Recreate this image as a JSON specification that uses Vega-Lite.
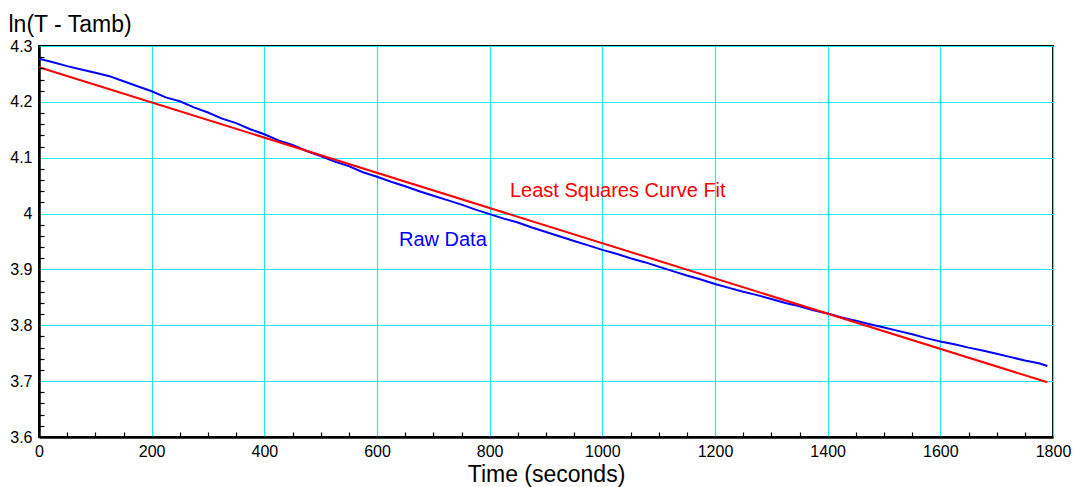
{
  "$schema": "https://vega.github.io/schema/vega-lite/v6.json",
  "width": 1014,
  "height": 391,
  "autosize": "none",
  "padding": {"left": 39, "top": 46, "right": 20, "bottom": 50},
  "background": "white",
  "config": {
    "font": "Liberation Sans",
    "view": {"stroke": "black", "strokeWidth": 2},
    "axis": {
      "domainColor": "black",
      "domainWidth": 2.5,
      "tickColor": "black",
      "tickWidth": 1.2,
      "labelColor": "black",
      "labelFontSize": 16,
      "labelFont": "Liberation Sans",
      "labelOverlap": false,
      "labelFlush": false,
      "titleFont": "Liberation Sans",
      "titleColor": "black",
      "titleFontWeight": "normal",
      "titleFontSize": 23,
      "gridColor": "#22e8ee",
      "gridWidth": 1.2
    }
  },
  "datasets": {
    "raw": [
      {"t": 0, "v": 4.277}, {"t": 25, "v": 4.271}, {"t": 50, "v": 4.264}, {"t": 75, "v": 4.258},
      {"t": 100, "v": 4.252}, {"t": 125, "v": 4.246}, {"t": 150, "v": 4.237}, {"t": 175, "v": 4.228},
      {"t": 200, "v": 4.219}, {"t": 225, "v": 4.208}, {"t": 250, "v": 4.201}, {"t": 275, "v": 4.190},
      {"t": 300, "v": 4.181}, {"t": 325, "v": 4.170}, {"t": 350, "v": 4.162}, {"t": 375, "v": 4.151},
      {"t": 400, "v": 4.142}, {"t": 425, "v": 4.131}, {"t": 450, "v": 4.123}, {"t": 475, "v": 4.112},
      {"t": 500, "v": 4.103}, {"t": 525, "v": 4.093}, {"t": 550, "v": 4.085}, {"t": 575, "v": 4.074},
      {"t": 600, "v": 4.066}, {"t": 625, "v": 4.057}, {"t": 650, "v": 4.049}, {"t": 675, "v": 4.040},
      {"t": 700, "v": 4.032}, {"t": 725, "v": 4.024}, {"t": 750, "v": 4.016}, {"t": 775, "v": 4.007},
      {"t": 800, "v": 3.999}, {"t": 825, "v": 3.991}, {"t": 850, "v": 3.984}, {"t": 875, "v": 3.975},
      {"t": 900, "v": 3.967}, {"t": 925, "v": 3.959}, {"t": 950, "v": 3.951}, {"t": 975, "v": 3.943},
      {"t": 1000, "v": 3.935}, {"t": 1025, "v": 3.928}, {"t": 1050, "v": 3.920}, {"t": 1075, "v": 3.913},
      {"t": 1100, "v": 3.905}, {"t": 1125, "v": 3.897}, {"t": 1150, "v": 3.889}, {"t": 1175, "v": 3.882},
      {"t": 1200, "v": 3.874}, {"t": 1225, "v": 3.867}, {"t": 1250, "v": 3.860}, {"t": 1275, "v": 3.854},
      {"t": 1300, "v": 3.847}, {"t": 1325, "v": 3.840}, {"t": 1350, "v": 3.834}, {"t": 1375, "v": 3.827},
      {"t": 1400, "v": 3.821}, {"t": 1425, "v": 3.814}, {"t": 1450, "v": 3.808}, {"t": 1475, "v": 3.802},
      {"t": 1500, "v": 3.796}, {"t": 1525, "v": 3.790}, {"t": 1550, "v": 3.784}, {"t": 1575, "v": 3.777},
      {"t": 1600, "v": 3.771}, {"t": 1625, "v": 3.766}, {"t": 1650, "v": 3.760}, {"t": 1675, "v": 3.755},
      {"t": 1700, "v": 3.749}, {"t": 1725, "v": 3.743}, {"t": 1750, "v": 3.737}, {"t": 1775, "v": 3.732},
      {"t": 1790, "v": 3.727}
    ],
    "fit": [{"t": 0, "v": 4.262}, {"t": 1790, "v": 3.698}],
    "labels": [
      {"t": 836, "v": 4.040, "text": "Least Squares Curve Fit", "series": "fit"},
      {"t": 639, "v": 3.953, "text": "Raw Data", "series": "raw"}
    ]
  },
  "resolve": {"axis": {"x": "independent", "y": "independent"}},
  "layer": [
    {
      "data": {"name": "raw"},
      "mark": {"type": "line", "color": "#0000ff", "strokeWidth": 2},
      "encoding": {
        "x": {
          "field": "t", "type": "quantitative",
          "scale": {"domain": [0, 1800], "nice": false, "zero": false},
          "axis": {
            "orient": "bottom",
            "title": "Time (seconds)",
            "titlePadding": 4,
            "values": [0, 200, 400, 600, 800, 1000, 1200, 1400, 1600, 1800],
            "format": "d",
            "ticks": false,
            "labelPadding": 6,
            "grid": true,
            "zindex": 0
          }
        },
        "y": {
          "field": "v", "type": "quantitative",
          "scale": {"domain": [3.6, 4.3], "nice": false, "zero": false},
          "axis": {
            "orient": "left",
            "title": "ln(T - Tamb)",
            "titleAngle": 0,
            "titleAlign": "left",
            "titleBaseline": "alphabetic",
            "titleX": -31,
            "titleY": -15,
            "values": [3.6, 3.7, 3.8, 3.9, 4, 4.1, 4.2, 4.3],
            "format": "~g",
            "ticks": false,
            "labelPadding": 7,
            "grid": true,
            "zindex": 0
          }
        }
      }
    },
    {
      "data": {"name": "fit"},
      "mark": {"type": "line", "color": "#ff0000", "strokeWidth": 2},
      "encoding": {
        "x": {
          "field": "t", "type": "quantitative",
          "axis": {
            "orient": "bottom",
            "title": null,
            "values": [50,100,150,250,300,350,450,500,550,650,700,750,850,900,950,1050,1100,1150,1250,1300,1350,1450,1500,1550,1650,1700,1750],
            "labels": false,
            "domain": false,
            "grid": false,
            "tickSize": -5,
            "zindex": 1
          }
        },
        "y": {
          "field": "v", "type": "quantitative",
          "axis": {
            "orient": "left",
            "title": null,
            "values": [3.62,3.64,3.66,3.68,3.72,3.74,3.76,3.78,3.82,3.84,3.86,3.88,3.92,3.94,3.96,3.98,4.02,4.04,4.06,4.08,4.12,4.14,4.16,4.18,4.22,4.24,4.26,4.28],
            "labels": false,
            "domain": false,
            "grid": false,
            "tickSize": -5,
            "zindex": 1
          }
        }
      }
    },
    {
      "data": {"name": "labels"},
      "mark": {"type": "text", "align": "left", "baseline": "middle", "fontSize": 20, "font": "Liberation Sans"},
      "encoding": {
        "x": {"field": "t", "type": "quantitative", "axis": null},
        "y": {"field": "v", "type": "quantitative", "axis": null},
        "text": {"field": "text"},
        "color": {"field": "series", "type": "nominal", "scale": {"domain": ["fit", "raw"], "range": ["#ff0000", "#0000ff"]}, "legend": null}
      }
    }
  ]
}
